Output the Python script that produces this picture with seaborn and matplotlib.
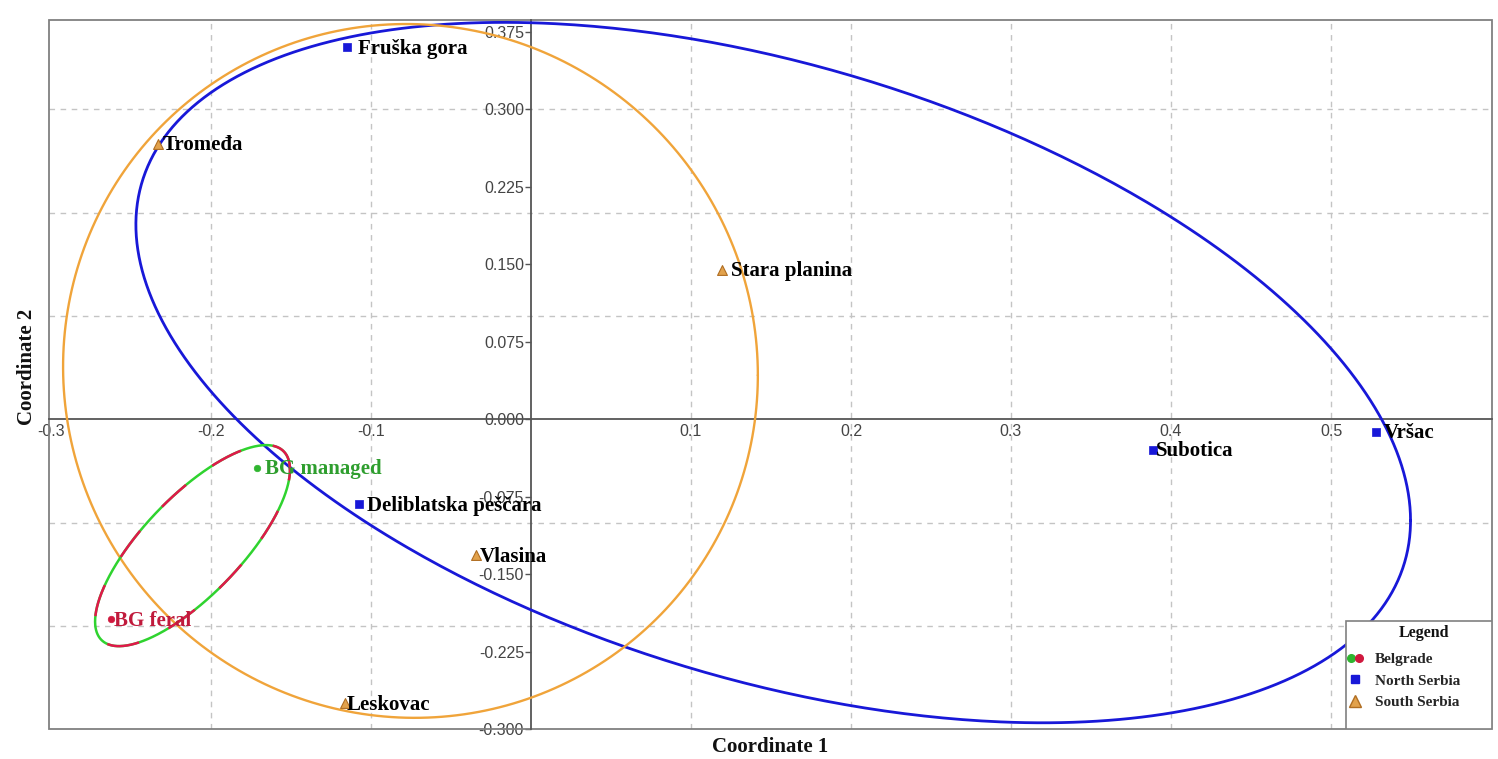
import numpy as np
import pandas as pd
import matplotlib
matplotlib.use("Agg")
import matplotlib.pyplot as plt
import seaborn as sns
from matplotlib.lines import Line2D
from matplotlib.legend_handler import HandlerTuple
from matplotlib.patches import Rectangle
from matplotlib.ticker import FixedLocator

# ---------------- data ----------------
sites = ["Fruška gora", "Tromeđa", "Stara planina", "Subotica", "Vršac",
         "BG managed", "Deliblatska peščara", "Vlasina", "BG feral", "Leskovac"]
coord1 = [-0.115, -0.233, 0.1195, 0.3886, 0.5284,
          -0.1714, -0.1075, -0.0342, -0.2623, -0.1163]
coord2 = [0.360, 0.267, 0.1445, -0.0297, -0.012,
          -0.0468, -0.0823, -0.1314, -0.1936, -0.2749]
region = ["North Serbia", "South Serbia", "South Serbia", "North Serbia", "North Serbia",
          "Belgrade", "North Serbia", "South Serbia", "Belgrade", "South Serbia"]
point_group = ["North Serbia", "South Serbia", "South Serbia", "North Serbia", "North Serbia",
               "BG managed", "North Serbia", "South Serbia", "BG feral", "South Serbia"]

# 95% ellipses: centre, half-extent in x and y, phase between x and y
ell_names = ["North Serbia", "South Serbia", "Belgrade"]
ell_cx = [0.1514, -0.0753, -0.2115]
ell_cy = [0.0453, 0.0469, -0.1222]
ell_rx = [0.3983, 0.2171, 0.0609]
ell_ry = [0.3390, 0.3358, 0.0973]
ell_phase_deg = [115.0, 90.7, 41.0]

x_ticks = [-0.3, -0.2, -0.1, 0.1, 0.2, 0.3, 0.4, 0.5]
y_ticks = [-0.300, -0.225, -0.150, -0.075, 0.000, 0.075, 0.150, 0.225, 0.300, 0.375]
x_grid = [-0.2, -0.1, 0.1, 0.2, 0.3, 0.4, 0.5]
y_grid = [-0.2, -0.1, 0.1, 0.2, 0.3]

legend_title = "Legend"
legend_labels = ["Belgrade", "North Serbia", "South Serbia"]

# ---------------- styles ----------------
BLUE = "#1818d8"
ORANGE = "#f0a43a"
GREEN = "#2fd32f"
RED = "#e0184a"
label_colors = {"BG managed": "#2e9e2e", "BG feral": "#c01a3c"}
label_offsets = [8, 3.5, 6.5, 2.2, 5, 5.8, 5.8, 2.2, 2.2, 1.4]

point_style = {
    "North Serbia": dict(marker="s", color=BLUE, s=26, edgecolor=BLUE, lw=0.5),
    "South Serbia": dict(marker="^", color="#e2a24c", s=50, edgecolor="#b06e22", lw=0.8),
    "BG managed": dict(marker="o", color="#2fb52f", s=22, edgecolor="#2fb52f", lw=0.5),
    "BG feral": dict(marker="o", color="#d0183e", s=22, edgecolor="#d0183e", lw=0.5),
}

sns.set_theme(style="white")
plt.rcParams["font.family"] = ["Liberation Serif", "DejaVu Serif"]

df = pd.DataFrame({"site": sites, "coord1": coord1, "coord2": coord2,
                   "region": region, "group": point_group})

fig = plt.figure(figsize=(14.98, 7.59), dpi=100)
ax = fig.add_axes([49 / 1498, 1 - 729.3 / 759, (1491.5 - 49) / 1498, (729.3 - 20) / 759])
ax.set_xlim(-0.3012, 0.6003)
ax.set_ylim(-0.300, 0.3866)

# grid
for gx in x_grid:
    ax.axvline(gx, color="#c4c4c4", lw=1.0, ls=(0, (4, 4)), zorder=0)
for gy in y_grid:
    ax.axhline(gy, color="#c4c4c4", lw=1.0, ls=(0, (4, 4)), zorder=0)

# ellipses
t = np.linspace(0, 2 * np.pi, 600)
rows = []
for name, cx, cy, rx, ry, ph in zip(ell_names, ell_cx, ell_cy, ell_rx, ell_ry, ell_phase_deg):
    ex = cx + rx * np.cos(t)
    ey = cy + ry * np.cos(t - np.deg2rad(ph))
    rows.append(pd.DataFrame({"x": ex, "y": ey, "name": name, "order": np.arange(len(t))}))
ell = pd.concat(rows, ignore_index=True)

sns.lineplot(data=ell[ell.name == "North Serbia"], x="x", y="y", sort=False,
             estimator=None, color=BLUE, lw=2.0, ax=ax, zorder=2)
sns.lineplot(data=ell[ell.name == "South Serbia"], x="x", y="y", sort=False,
             estimator=None, color=ORANGE, lw=1.7, ax=ax, zorder=2)
bg = ell[ell.name == "Belgrade"]
sns.lineplot(data=bg, x="x", y="y", sort=False, estimator=None,
             color=GREEN, lw=1.8, ax=ax, zorder=2)
ax.plot(bg["x"], bg["y"], color=RED, lw=1.8, ls=(0, (13, 13)), zorder=2.1)

# points
for grp, st in point_style.items():
    sub = df[df.group == grp]
    sns.scatterplot(data=sub, x="coord1", y="coord2", marker=st["marker"], color=st["color"],
                    s=st["s"], edgecolor=st["edgecolor"], linewidth=st["lw"], ax=ax,
                    zorder=5, legend=False)

# labels
for name, x, y, off in zip(sites, coord1, coord2, label_offsets):
    ax.annotate(name, (x, y), xytext=(off, -1), textcoords="offset points",
                ha="left", va="center", fontsize=15, fontweight="bold",
                color=label_colors.get(name, "black"), zorder=6)

# axes through zero
ax.spines["left"].set_position(("data", 0))
ax.spines["bottom"].set_position(("data", 0))
for sp in ["left", "bottom"]:
    ax.spines[sp].set_color("#555555")
    ax.spines[sp].set_linewidth(1.3)
    ax.spines[sp].set_zorder(1)
ax.spines["top"].set_visible(False)
ax.spines["right"].set_visible(False)
ax.add_patch(Rectangle((0, 0), 1, 1, transform=ax.transAxes, fill=False,
                       edgecolor="#808080", lw=1.3, clip_on=False, zorder=1))

ax.xaxis.set_major_locator(FixedLocator(x_ticks))
ax.yaxis.set_major_locator(FixedLocator(y_ticks))
ax.set_xticklabels([f"{v:.1f}" for v in x_ticks], fontfamily="Liberation Sans")
ax.set_yticklabels([f"{v:.3f}" for v in y_ticks], fontfamily="Liberation Sans")
ax.tick_params(axis="x", length=0, pad=3, labelsize=11.5, labelcolor="#444444")
ax.tick_params(axis="y", direction="out", length=4, width=1, color="#555555",
               pad=1, labelsize=11.5, labelcolor="#444444")
ax.xaxis.set_ticks_position("bottom")
ax.yaxis.set_ticks_position("left")

ax.set_xlabel("Coordinate 1", fontsize=15, fontweight="bold", color="#111111")
ax.set_ylabel("Coordinate 2", fontsize=15, fontweight="bold", color="#111111")
ax.xaxis.set_label_coords(0.5, -0.011)
ax.yaxis.set_label_coords(-0.0085, 0.5115)

# legend
box_x0 = (1346 - 49) / 1442.5
box_h = (729.3 - 621) / 709.3
ax.add_patch(Rectangle((box_x0, 0), 1 - box_x0, box_h, transform=ax.transAxes,
                       facecolor="white", edgecolor="#808080", lw=1.2, zorder=8))
ax.text((1424 - 49) / 1442.5, (729.3 - 633) / 709.3, legend_title, transform=ax.transAxes,
        ha="center", va="center", fontsize=11.5, fontweight="bold", color="#111111",
        zorder=9)
h_bg = (Line2D([], [], ls="", marker="o", color="#2fb52f", markersize=5.5),
        Line2D([], [], ls="", marker="o", color="#d0183e", markersize=5.5))
h_n = Line2D([], [], ls="", marker="s", color=BLUE, markersize=5.5)
h_s = Line2D([], [], ls="", marker="^", markerfacecolor="#e2a24c",
             markeredgecolor="#b06e22", markersize=8)
leg = ax.legend([h_bg, h_n, h_s], legend_labels,
                handler_map={tuple: HandlerTuple(ndivide=None, pad=0.0)},
                loc="upper left", bbox_to_anchor=((1339 - 49) / 1442.5, (729.3 - 645) / 709.3),
                bbox_transform=ax.transAxes, frameon=False, borderpad=0.0,
                handlelength=1.1, handletextpad=0.75, labelspacing=0.5,
                prop={"family": "Liberation Serif", "weight": "bold", "size": 11})
leg.set_zorder(9)

fig.savefig("out.png", dpi=100, facecolor="white")
